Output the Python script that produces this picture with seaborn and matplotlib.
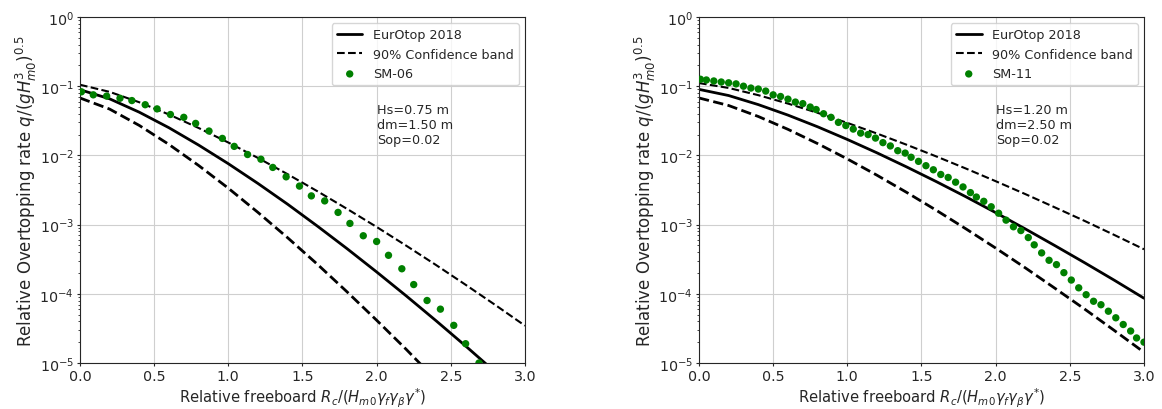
import matplotlib
matplotlib.use('Agg')
import matplotlib.pyplot as plt
import seaborn as sns

x_line = [0.0, 0.2, 0.4, 0.6, 0.8, 1.0, 1.2, 1.4, 1.6, 1.8, 2.0, 2.2, 2.4, 2.6, 2.8, 3.0]

# left panel (SM-06)
eo_left = [0.089, 0.0657, 0.0421, 0.0251, 0.0141, 0.00759, 0.00393, 0.00197, 9.53e-4, 4.50e-4,
           2.07e-4, 9.31e-5, 4.09e-5, 1.76e-5, 7.4e-6, 3.1e-6]
up_left = [0.105, 0.0828, 0.0586, 0.0390, 0.0249, 0.01536, 0.00919, 0.00535, 0.00304, 0.00169,
           9.25e-4, 4.95e-4, 2.61e-4, 1.35e-4, 6.89e-5, 3.46e-5]
lo_left = [0.0676, 0.0467, 0.0271, 0.0144, 0.00715, 0.00336, 0.00150, 6.46e-4, 2.68e-4, 1.07e-4,
           4.15e-5, 1.57e-5, 5.7e-6, 2.0e-6, 7.0e-7, 2.4e-7]

sm06_x = [0.01, 0.09, 0.18, 0.27, 0.35, 0.44, 0.52, 0.61, 0.70, 0.78, 0.87, 0.96, 1.04, 1.13, 1.22, 1.30,
          1.39, 1.48, 1.56, 1.65, 1.74, 1.82, 1.91, 2.00, 2.08, 2.17, 2.25, 2.34, 2.43, 2.52, 2.60, 2.69]
sm06_y = [0.083, 0.075, 0.072, 0.067, 0.062, 0.054, 0.047, 0.039, 0.0355, 0.029, 0.0225, 0.0176, 0.0135,
          0.0103, 0.0088, 0.0067, 0.0049, 0.0036, 0.0026, 0.0022, 0.0015, 0.00104, 6.9e-4, 5.7e-4, 3.6e-4,
          2.3e-4, 1.36e-4, 8.0e-5, 6.0e-5, 3.5e-5, 1.9e-5, 1.0e-5]

# right panel (SM-11)
eo_right = [0.09, 0.0733, 0.0542, 0.0382, 0.0259, 0.0170, 0.01089, 0.00681, 0.00418, 0.00252,
            0.00149, 8.66e-4, 4.96e-4, 2.81e-4, 1.57e-4, 8.63e-5]
up_right = [0.111, 0.0943, 0.0742, 0.0561, 0.0412, 0.0295, 0.0207, 0.01425, 0.00966, 0.00645,
            0.00424, 0.00276, 0.00177, 0.00113, 7.08e-4, 4.40e-4]
lo_right = [0.0676, 0.0526, 0.0365, 0.0238, 0.0148, 0.00889, 0.00517, 0.00292, 0.00161, 8.67e-4,
            4.58e-4, 2.37e-4, 1.20e-4, 6.01e-5, 2.95e-5, 1.43e-5]

sm11_x = [0.01, 0.05, 0.10, 0.15, 0.20, 0.25, 0.30, 0.35, 0.40, 0.45, 0.50, 0.55, 0.60, 0.65, 0.70, 0.75,
          0.79, 0.84, 0.89, 0.94, 0.99, 1.04, 1.09, 1.14, 1.19, 1.24, 1.29, 1.34, 1.39, 1.43, 1.48, 1.53,
          1.58, 1.63, 1.68, 1.73, 1.78, 1.83, 1.87, 1.92, 1.97, 2.02, 2.07, 2.12, 2.17, 2.22, 2.26, 2.31,
          2.36, 2.41, 2.46, 2.51, 2.56, 2.61, 2.66, 2.71, 2.76, 2.81, 2.86, 2.91, 2.95, 3.00]
sm11_y = [0.126, 0.123, 0.119, 0.115, 0.112, 0.108, 0.100, 0.094, 0.091, 0.085, 0.075, 0.071, 0.065, 0.059,
          0.056, 0.050, 0.046, 0.040, 0.0355, 0.030, 0.027, 0.024, 0.021, 0.020, 0.0178, 0.0153, 0.0137,
          0.0117, 0.0108, 0.0094, 0.0082, 0.0071, 0.0062, 0.0053, 0.0048, 0.0041, 0.0035, 0.0029, 0.0025,
          0.00217, 0.00181, 0.00146, 0.00116, 9.3e-4, 8.2e-4, 6.5e-4, 5.1e-4, 3.9e-4, 3.05e-4, 2.64e-4,
          2.02e-4, 1.58e-4, 1.22e-4, 9.7e-5, 7.8e-5, 6.95e-5, 5.6e-5, 4.5e-5, 3.6e-5, 2.9e-5, 2.3e-5, 2.0e-5]

panels = [
    (eo_left, up_left, lo_left, sm06_x, sm06_y, 'SM-06', 'Hs=0.75 m\ndm=1.50 m\nSop=0.02'),
    (eo_right, up_right, lo_right, sm11_x, sm11_y, 'SM-11', 'Hs=1.20 m\ndm=2.50 m\nSop=0.02'),
]

sns.set_style('ticks')
plt.rcParams['font.family'] = ['DejaVu Sans']
plt.rcParams['xtick.labelsize'] = 10.3
plt.rcParams['ytick.labelsize'] = 10.3
plt.rcParams['xtick.major.size'] = 2
plt.rcParams['ytick.major.size'] = 2
plt.rcParams['ytick.minor.size'] = 1.2
plt.rcParams['xtick.major.pad'] = 2.5
plt.rcParams['ytick.major.pad'] = 2.5

fig, axes = plt.subplots(1, 2, figsize=(11.62, 4.1), dpi=100)
fig.subplots_adjust(left=0.0688, right=0.9845, bottom=0.1122, top=0.9561, wspace=0.391)

for ax, (eo, up, lo, px, py, name, info) in zip(axes, panels):
    sns.lineplot(x=x_line, y=eo, color='k', lw=2, label='EurOtop 2018', ax=ax)
    sns.lineplot(x=x_line, y=up, color='k', lw=1.5, linestyle='--', label='90% Confidence band', ax=ax)
    sns.lineplot(x=x_line, y=lo, color='k', lw=2, linestyle='--', ax=ax)
    sns.scatterplot(x=px, y=py, color='green', s=28, edgecolor='none', label=name, ax=ax, zorder=3)
    ax.set_yscale('log')
    ax.set_ylim(1e-5, 1)
    ax.set_xlim(0, 3)
    ax.set_xticks([0.0, 0.5, 1.0, 1.5, 2.0, 2.5, 3.0])
    ax.grid(True, which='major', color='#cfcfcf', lw=0.8)
    ax.set_xlabel(r'Relative freeboard $R_c/(H_{m0}\gamma_f\gamma_\beta\gamma^{*})$', fontsize=10.6, labelpad=2)
    ax.set_ylabel(r'Relative Overtopping rate $q/(gH_{m0}^3)^{0.5}$', fontsize=12, labelpad=0.5)
    ax.text(2.0, 0.058, info, fontsize=9.2, va='top', ha='left')
    ax.legend(loc='upper right', fontsize=9.2)

fig.savefig('out.png', dpi=100)
